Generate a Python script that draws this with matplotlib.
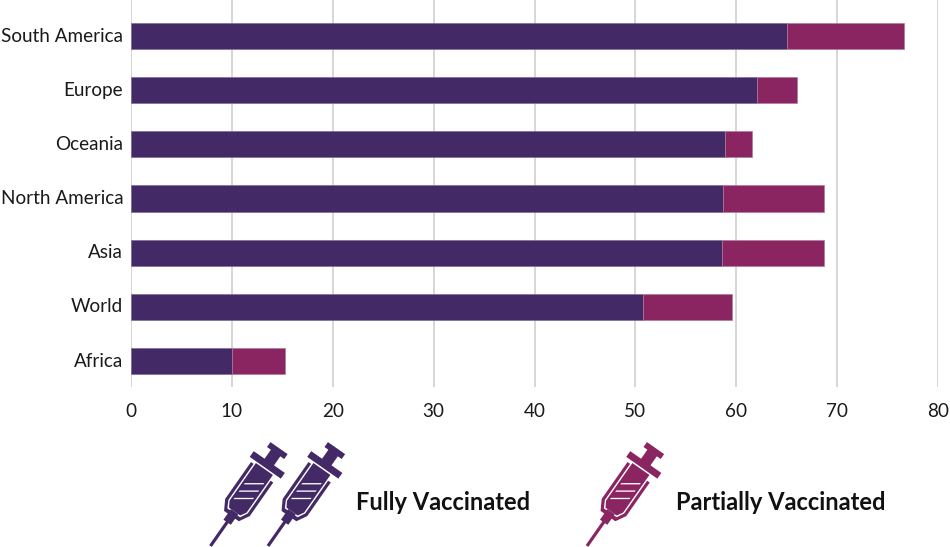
import matplotlib
matplotlib.use("Agg")
import matplotlib.pyplot as plt
from matplotlib.patches import Polygon, Rectangle
from matplotlib.transforms import Affine2D

regions = ["South America", "Europe", "Oceania", "North America", "Asia", "World", "Africa"]
fully = [65.0, 62.1, 58.9, 58.7, 58.6, 50.8, 10.0]
partial = [11.6, 3.9, 2.7, 10.0, 10.1, 8.8, 5.3]
x_ticks = [0, 10, 20, 30, 40, 50, 60, 70, 80]
legend_labels = ["Fully Vaccinated", "Partially Vaccinated"]

PURPLE = "#432A66"
MAGENTA = "#8A2561"
W, H = 950, 547

plt.rcParams["font.family"] = ["Lato", "DejaVu Sans"]
fig = plt.figure(figsize=(W / 100, H / 100), dpi=100, facecolor="white")
ax = fig.add_axes([131 / W, 1 - 387 / H, (938 - 131) / W, 387 / H])

y = list(range(len(regions)))
ax.barh(y, fully, height=0.485, color=PURPLE, edgecolor="#7E6C99", linewidth=0.5, zorder=3)
ax.barh(y, partial, left=fully, height=0.485, color=MAGENTA, edgecolor="#B07A9C", linewidth=0.5, zorder=3)

ax.set_xlim(0, 80)
ax.set_ylim(6.48, -0.665)
ax.set_yticks(y, regions)
ax.set_xticks(x_ticks)
ax.grid(axis="x", color="#CBCBCB", linewidth=1.1, zorder=0)
ax.set_axisbelow(True)
for s in ax.spines.values():
    s.set_visible(False)
ax.tick_params(axis="both", length=0, labelsize=13.6, labelcolor="#1a1a1a")
ax.tick_params(axis="y", pad=5.6)
ax.tick_params(axis="x", pad=11.5)
for lab in ax.get_yticklabels():
    lab.set_transform(lab.get_transform() + Affine2D().translate(0, 1.5))


def syringe(tip_x, tip_y, color):
    """Icon drawn along +y from the needle tip, then leaned over, in pixels."""
    base = Affine2D().rotate_deg(-35).translate(tip_x, H - tip_y)

    def add(p):
        p.set_transform(base)
        fig.add_artist(p)

    def rect(cx, y0, width, y1, c=color):
        add(Rectangle((cx - width / 2, y0), width, y1 - y0, facecolor=c, edgecolor="none"))

    rect(0, 0, 3.2, 36)
    rect(0, 29, 9, 42)
    # outer shell, open towards the flange
    add(Polygon([(-15, 92), (-15, 47), (-9, 36.5), (9, 36.5), (15, 47), (15, 88),
                 (11.8, 88), (11.8, 48), (7.8, 40.5), (-7.8, 40.5), (-11.8, 48), (-11.8, 92)],
                closed=True, facecolor=color, edgecolor="none"))
    # inner barrel
    add(Polygon([(-10.4, 94), (-10.4, 48), (-6.8, 42), (6.8, 42), (10.4, 48), (10.4, 94)],
                closed=True, facecolor=color, edgecolor="none"))
    rect(0, 95.5, 38, 102.5)
    rect(0, 100, 11.5, 115)
    rect(0, 113.5, 21, 119.5)
    # measure marks, level on the page
    for along in [58, 67, 76]:
        half = 8
        t = 0.8
        mark = Polygon([(-half, along - t - half * 0.7), (half, along - t + half * 0.7),
                        (half, along + t + half * 0.7), (-half, along + t - half * 0.7)],
                       closed=True, facecolor="white", edgecolor="none")
        add(mark)


syringe(210.5, 546, PURPLE)
syringe(268, 546, PURPLE)
syringe(587, 546, MAGENTA)

fig.text(356 / W, 1 - 502 / H, legend_labels[0], fontsize=17, fontweight="bold",
         color="#111111", ha="left", va="center")
fig.text(676 / W, 1 - 502 / H, legend_labels[1], fontsize=17, fontweight="bold",
         color="#111111", ha="left", va="center")

fig.savefig("out.png", dpi=100, facecolor="white")
